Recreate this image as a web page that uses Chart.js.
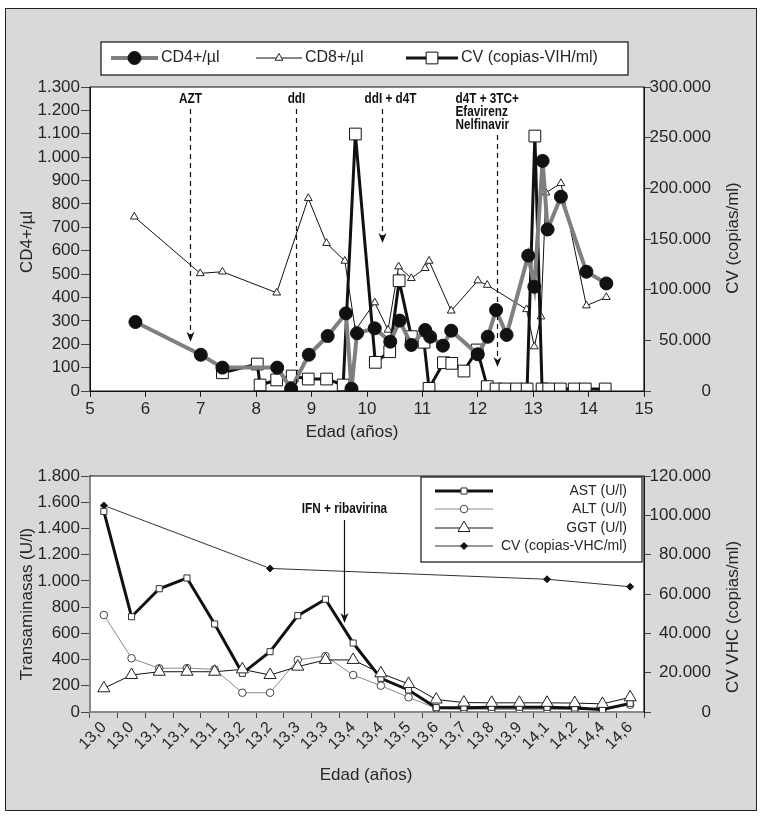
<!DOCTYPE html>
<html>
<head>
<meta charset="utf-8">
<script src="https://cdn.jsdelivr.net/npm/chart.js@4.4.1/dist/chart.umd.min.js"></script>
<style>
  body { margin: 0; background: #fff; }
  #marco { position: absolute; left: 5px; top: 8px; width: 750px; height: 801px; background: #d9d9d9; border: 1.5px solid #222; }
  canvas { position: absolute; left: 0; }
  #vih { top: 0; }
  #vhc { top: 450px; }
</style>
</head>
<body>
<div id="marco"></div>
<canvas id="vih" width="766" height="450"></canvas>
<canvas id="vhc" width="766" height="366"></canvas>
<script>
// ---- Panel superior: VIH ----
const edadCD4 = [5.82, 7.0, 7.39, 8.38, 8.63, 8.95, 9.29, 9.62, 9.72, 9.82, 10.14, 10.42, 10.59, 10.8, 11.05, 11.14, 11.37, 11.52, 12.0, 12.18, 12.33, 12.52, 12.91, 13.02, 13.17, 13.26, 13.5, 13.96, 14.32];
const cd4 = [295, 155, 100, 100, 10, 155, 235, 332, 10, 247, 268, 211, 301, 197, 261, 232, 194, 258, 157, 232, 346, 240, 579, 446, 984, 691, 831, 510, 460];

const edadCD8 = [5.8, 6.99, 7.39, 8.37, 8.94, 9.27, 9.6, 9.79, 10.14, 10.38, 10.57, 10.8, 11.05, 11.12, 11.52, 12.0, 12.17, 12.88, 13.02, 13.14, 13.23, 13.5, 13.96, 14.32];
const cd8 = [745, 503, 510, 420, 824, 632, 556, 260, 378, 261, 532, 482, 525, 556, 343, 472, 453, 349, 190, 318, 848, 888, 365, 401];

const edadCV = [7.39, 8.02, 8.07, 8.37, 8.65, 8.94, 9.27, 9.57, 9.79, 10.15, 10.41, 10.58, 10.8, 11.03, 11.12, 11.38, 11.53, 11.75, 11.99, 12.17, 12.33, 12.49, 12.7, 12.89, 13.03, 13.16, 13.28, 13.49, 13.74, 13.94, 14.3];
const cvVih = [18000, 26600, 5900, 10900, 14800, 11800, 11800, 5900, 253600, 28300, 38800, 108800, 53600, 48100, 2600, 27900, 27300, 19700, 40500, 4300, 2000, 2000, 2000, 2000, 251600, 2000, 2000, 2000, 2000, 2000, 2000];

const tratamientos = [['AZT'], ['ddI'], ['ddI + d4T'], ['d4T + 3TC+', 'Efavirenz', 'Nelfinavir']];
const edadTratamiento = [6.8, 8.72, 10.27, 12.34];

// ---- Panel inferior: VHC ----
const edadesVhc = ['13,0', '13,0', '13,1', '13,1', '13,1', '13,2', '13,2', '13,3', '13,3', '13,4', '13,4', '13,5', '13,6', '13,7', '13,8', '13,9', '14,1', '14,2', '14,4', '14,6'];
const ast = [1530, 727, 940, 1022, 671, 295, 460, 735, 860, 526, 257, 168, 33, 33, 36, 36, 36, 30, 20, 66];
const alt = [740, 410, 333, 335, 325, 147, 147, 397, 427, 282, 201, 112, 28, 22, 20, 20, 20, 20, 15, 55];
const ggt = [181, 282, 307, 307, 307, 325, 282, 346, 397, 397, 295, 214, 95, 72, 70, 70, 70, 68, 62, 112];
const cvVhc = [105000, null, null, null, null, null, 73000, null, null, null, null, null, null, null, null, null, 67500, null, null, 63700];

const FUENTE = "'Liberation Sans', Arial, sans-serif";
const GRIS_TEXTO = '#262626';

const miles = v => String(v).replace(/\B(?=(\d{3})+(?!\d))/g, '.');
const pares = (xs, ys) => xs.map((x, i) => ({ x: x, y: ys[i] }));

// dibuja un marcador como lo hace Chart.js
function marca(ctx, tipo, x, y, r, relleno, borde, grosor) {
    ctx.save();
    ctx.beginPath();
    if (tipo === 'circle') {
        ctx.arc(x, y, r, 0, Math.PI * 2);
    } else if (tipo === 'rect') {
        const s = r * Math.SQRT1_2;
        ctx.rect(x - s, y - s, 2 * s, 2 * s);
    } else if (tipo === 'rectRot') {
        ctx.moveTo(x, y - r); ctx.lineTo(x + r, y); ctx.lineTo(x, y + r); ctx.lineTo(x - r, y);
    } else if (tipo === 'triangle') {
        let a = 0;
        ctx.moveTo(x + Math.sin(a) * r, y - Math.cos(a) * r);
        a += Math.PI * 2 / 3;
        ctx.lineTo(x + Math.sin(a) * r, y - Math.cos(a) * r);
        a += Math.PI * 2 / 3;
        ctx.lineTo(x + Math.sin(a) * r, y - Math.cos(a) * r);
    }
    ctx.closePath();
    ctx.fillStyle = relleno;
    ctx.fill();
    ctx.lineWidth = grosor;
    ctx.strokeStyle = borde;
    ctx.stroke();
    ctx.restore();
}

function muestraLeyenda(ctx, ds, x1, x2, y) {
    ctx.save();
    ctx.strokeStyle = ds.borderColor;
    ctx.lineWidth = ds.borderWidth;
    ctx.beginPath(); ctx.moveTo(x1, y); ctx.lineTo(x2, y); ctx.stroke();
    ctx.restore();
    marca(ctx, ds.pointStyle || 'circle', (x1 + x2) / 2, y, ds.pointRadius, ds.pointBackgroundColor, ds.pointBorderColor, ds.pointBorderWidth || 1);
}

// texto negrita condensado (la fuente del original es estrecha)
function textoEstrecho(ctx, t, x, y, alin) {
    ctx.save();
    ctx.font = 'bold 14px ' + FUENTE;
    ctx.fillStyle = '#111';
    ctx.textBaseline = 'middle';
    ctx.textAlign = alin;
    ctx.translate(x, y);
    ctx.scale(0.84, 1);
    ctx.fillText(t, 0, 0);
    ctx.restore();
}

function flecha(ctx, x, y1, y2, discontinua, punta) {
    ctx.save();
    ctx.strokeStyle = '#111';
    ctx.fillStyle = '#111';
    ctx.lineWidth = 1.2;
    if (discontinua) ctx.setLineDash([5, 4]);
    ctx.beginPath(); ctx.moveTo(x, y1); ctx.lineTo(x, punta ? y2 - 4 : y2); ctx.stroke();
    ctx.setLineDash([]);
    if (punta) {
        ctx.beginPath();
        ctx.moveTo(x, y2); ctx.lineTo(x - 4, y2 - 10); ctx.lineTo(x, y2 - 7); ctx.lineTo(x + 4, y2 - 10);
        ctx.closePath(); ctx.fill();
    }
    ctx.restore();
}

// fondo blanco del area, marco, titulos de ejes
const fondoYMarco = {
    id: 'fondoYMarco',
    beforeDraw(chart) {
        const { ctx, chartArea: a } = chart;
        ctx.save();
        ctx.fillStyle = '#fff';
        ctx.fillRect(a.left, a.top, a.right - a.left, a.bottom - a.top);
        ctx.restore();
    },
    afterDraw(chart, args, opts) {
        const { ctx, chartArea: a } = chart;
        ctx.save();
        ctx.strokeStyle = '#111';
        ctx.lineWidth = 1.2;
        ctx.beginPath();
        if (opts.cajaCompleta) {
            ctx.rect(a.left, a.top, a.right - a.left, a.bottom - a.top);
        } else {
            ctx.moveTo(a.left, a.top); ctx.lineTo(a.right, a.top); ctx.lineTo(a.right, a.bottom);
        }
        ctx.stroke();

        ctx.fillStyle = GRIS_TEXTO;
        ctx.font = '17px ' + FUENTE;
        ctx.textAlign = 'center';
        ctx.textBaseline = 'middle';
        ctx.fillText(opts.tituloX, opts.posX[0], opts.posX[1]);
        [[opts.tituloIzq, opts.posIzq], [opts.tituloDer, opts.posDer]].forEach(([t, p]) => {
            ctx.save();
            ctx.translate(p[0], p[1]);
            ctx.rotate(-Math.PI / 2);
            ctx.fillText(t, 0, 0);
            ctx.restore();
        });
        ctx.restore();
    }
};

// leyenda y tratamientos del panel VIH
const extrasVih = {
    id: 'extrasVih',
    afterDraw(chart) {
        const { ctx } = chart;
        const sx = chart.scales.x, sy = chart.scales.y;

        const puntas = [211, null, 633, 103];
        tratamientos.forEach((lineas, i) => {
            const x = Math.round(sx.getPixelForValue(edadTratamiento[i])) + 0.5;
            if (lineas.length > 1) {
                lineas.forEach((t, j) => textoEstrecho(ctx, t, x - 42, 99 + j * 13, 'left'));
            } else {
                textoEstrecho(ctx, lineas[0], x + (lineas[0].length > 4 ? 8 : 0), 99, 'center');
            }
            const inicio = 99 + (lineas.length - 1) * 13 + 10;
            const fin = puntas[i] === null ? sy.getPixelForValue(0) : sy.getPixelForValue(puntas[i]);
            flecha(ctx, x, inicio, fin, true, puntas[i] !== null);
        });

        // leyenda
        ctx.save();
        ctx.fillStyle = '#fff';
        ctx.strokeStyle = '#111';
        ctx.lineWidth = 1.2;
        ctx.fillRect(101, 42, 527, 33);
        ctx.strokeRect(101, 42, 527, 33);
        const tramos = [[111, 158], [256, 302], [406, 458]];
        ctx.font = '16px ' + FUENTE;
        ctx.textAlign = 'left';
        ctx.textBaseline = 'middle';
        chart.data.datasets.forEach((ds, i) => {
            muestraLeyenda(ctx, ds, tramos[i][0], tramos[i][1], 58);
            ctx.fillStyle = GRIS_TEXTO;
            ctx.fillText(ds.label, tramos[i][1] + 3, 58);
        });
        ctx.restore();
    }
};

// leyenda y anotacion del panel VHC
const extrasVhc = {
    id: 'extrasVhc',
    afterDraw(chart) {
        const { ctx, chartArea: a } = chart;
        const sx = chart.scales.x, sy = chart.scales.y;

        const x = Math.round(sx.getPixelForValue(8) + 0.68 * (sx.getPixelForValue(9) - sx.getPixelForValue(8))) + 0.5;
        textoEstrecho(ctx, 'IFN + ribavirina', x, 59, 'center');
        flecha(ctx, x, 70, sy.getPixelForValue(679), false, true);

        ctx.save();
        const izq = a.right - 223, der = a.right - 2, arr = a.top + 1;
        ctx.fillStyle = '#fff';
        ctx.fillRect(izq, arr, der - izq, 85);
        ctx.strokeStyle = '#111';
        ctx.lineWidth = 1.2;
        ctx.strokeRect(izq, arr, der - izq, 85);
        ctx.font = '14px ' + FUENTE;
        ctx.textAlign = 'right';
        ctx.textBaseline = 'middle';
        const filas = [15, 33, 52, 70];
        chart.data.datasets.forEach((ds, i) => {
            const y = a.top + filas[i];
            muestraLeyenda(ctx, ds, izq + 14, izq + 72, y);
            ctx.fillStyle = GRIS_TEXTO;
            ctx.fillText(ds.label, der - 15, y);
        });
        ctx.restore();
    }
};

const fuenteTicks = { family: FUENTE, size: 17 };

new Chart(document.getElementById('vih'), {
    type: 'line',
    data: {
        datasets: [
            {
                label: 'CD4+/µl', data: pares(edadCD4, cd4), yAxisID: 'y',
                borderColor: '#7f7f7f', borderWidth: 4,
                pointStyle: 'circle', pointRadius: 6.5, pointBackgroundColor: '#111', pointBorderColor: '#111', pointBorderWidth: 1,
                order: 1
            },
            {
                label: 'CD8+/µl', data: pares(edadCD8, cd8), yAxisID: 'y',
                borderColor: '#111', borderWidth: 1,
                pointStyle: 'triangle', pointRadius: 4.5, pointBackgroundColor: '#fff', pointBorderColor: '#222', pointBorderWidth: 1,
                order: 3
            },
            {
                label: 'CV (copias-VIH/ml)', data: pares(edadCV, cvVih), yAxisID: 'y2',
                borderColor: '#111', borderWidth: 3,
                pointStyle: 'rect', pointRadius: 8.3, pointBackgroundColor: '#fff', pointBorderColor: '#111', pointBorderWidth: 1,
                order: 2
            }
        ]
    },
    options: {
        responsive: false,
        animation: false,
        devicePixelRatio: 1,
        layout: { padding: { top: 87, left: 0, right: 55, bottom: 0 } },
        plugins: {
            legend: { display: false },
            tooltip: { enabled: false },
            fondoYMarco: {
                cajaCompleta: true,
                tituloX: 'Edad (años)', posX: [352, 432],
                tituloIzq: 'CD4+/µl', posIzq: [27, 242],
                tituloDer: 'CV (copias/ml)', posDer: [733, 238]
            }
        },
        scales: {
            x: {
                type: 'linear', min: 5, max: 15,
                ticks: { stepSize: 1, font: fuenteTicks, color: GRIS_TEXTO, padding: 2, maxRotation: 0 },
                grid: { drawOnChartArea: false, tickLength: 6, color: '#222' },
                border: { color: '#111' },
                afterFit: s => { s.height = 59; }
            },
            y: {
                position: 'left', min: 0, max: 1300,
                ticks: { stepSize: 100, autoSkip: false, callback: miles, font: fuenteTicks, color: GRIS_TEXTO, padding: 1 },
                grid: { drawOnChartArea: false, tickLength: 9, color: '#444' },
                border: { color: '#111' },
                afterFit: s => { s.width = 90; }
            },
            y2: {
                position: 'right', min: 0, max: 300000,
                ticks: { stepSize: 50000, autoSkip: false, callback: miles, font: fuenteTicks, color: GRIS_TEXTO, padding: 1, crossAlign: 'far' },
                grid: { drawOnChartArea: false, tickLength: 7, color: '#444' },
                border: { color: '#111' },
                afterFit: s => { s.width = 67; }
            }
        }
    },
    plugins: [fondoYMarco, extrasVih]
});

new Chart(document.getElementById('vhc'), {
    type: 'line',
    data: {
        labels: edadesVhc,
        datasets: [
            {
                label: 'AST (U/l)', data: ast, yAxisID: 'y',
                borderColor: '#111', borderWidth: 3,
                pointStyle: 'rect', pointRadius: 4.3, pointBackgroundColor: '#fff', pointBorderColor: '#333', pointBorderWidth: 1,
                order: 2
            },
            {
                label: 'ALT (U/l)', data: alt, yAxisID: 'y',
                borderColor: '#8a8a8a', borderWidth: 1,
                pointStyle: 'circle', pointRadius: 3.8, pointBackgroundColor: '#fff', pointBorderColor: '#444', pointBorderWidth: 1,
                order: 3
            },
            {
                label: 'GGT (U/l)', data: ggt, yAxisID: 'y',
                borderColor: '#111', borderWidth: 1,
                pointStyle: 'triangle', pointRadius: 7, pointBackgroundColor: '#fff', pointBorderColor: '#222', pointBorderWidth: 1,
                order: 1
            },
            {
                label: 'CV (copias-VHC/ml)', data: cvVhc, yAxisID: 'y2', spanGaps: true,
                borderColor: '#333', borderWidth: 1,
                pointStyle: 'rectRot', pointRadius: 3.5, pointBackgroundColor: '#111', pointBorderColor: '#111', pointBorderWidth: 1,
                order: 4
            }
        ]
    },
    options: {
        responsive: false,
        animation: false,
        devicePixelRatio: 1,
        layout: { padding: { top: 26, left: 0, right: 55, bottom: 0 } },
        plugins: {
            legend: { display: false },
            tooltip: { enabled: false },
            fondoYMarco: {
                cajaCompleta: false,
                tituloX: 'Edad (años)', posX: [366, 325],
                tituloIzq: 'Transaminasas (U/l)', posIzq: [27, 154],
                tituloDer: 'CV VHC (copias/ml)', posDer: [733, 167]
            }
        },
        scales: {
            x: {
                type: 'category', offset: true,
                ticks: { autoSkip: false, minRotation: 45, maxRotation: 45, font: { family: FUENTE, size: 16 }, color: GRIS_TEXTO, padding: 0 },
                grid: { offset: true, drawOnChartArea: false, tickLength: 6, color: '#444' },
                border: { color: '#888', width: 2 },
                afterFit: s => { s.height = 104; }
            },
            y: {
                position: 'left', min: 0, max: 1800,
                ticks: { stepSize: 200, autoSkip: false, callback: miles, font: fuenteTicks, color: GRIS_TEXTO, padding: 1 },
                grid: { drawOnChartArea: false, tickLength: 9, color: '#444' },
                border: { color: '#888', width: 2 },
                afterFit: s => { s.width = 90; }
            },
            y2: {
                position: 'right', min: 0, max: 120000,
                ticks: { stepSize: 20000, autoSkip: false, callback: miles, font: fuenteTicks, color: GRIS_TEXTO, padding: 1, crossAlign: 'far' },
                grid: { drawOnChartArea: false, tickLength: 7, color: '#444' },
                border: { color: '#111' },
                afterFit: s => { s.width = 67; }
            }
        }
    },
    plugins: [fondoYMarco, extrasVhc]
});
</script>
</body>
</html>
